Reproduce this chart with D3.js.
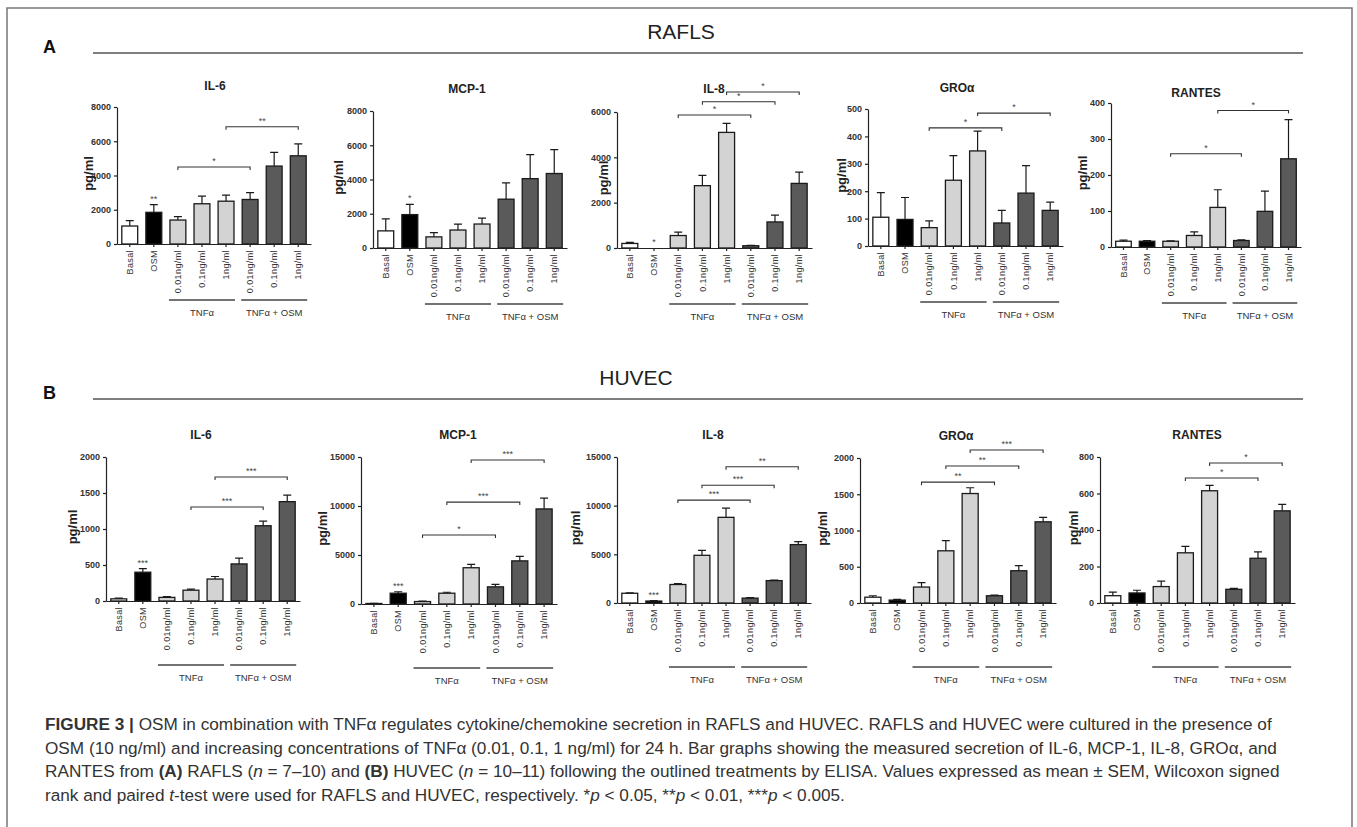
<!DOCTYPE html>
<html>
<head>
<meta charset="utf-8">
<script src="https://cdn.jsdelivr.net/npm/d3@7/dist/d3.min.js"></script>
<style>
    body { margin: 0; background: #fff; }
    svg { display: block; font-family: "Liberation Sans", Arial, sans-serif; }
    .axis path, .axis line { stroke: #222; stroke-width: 1.2px; }
    .axis text { fill: #333; font-size: 9px; font-weight: bold; }
</style>
</head>
<body>
<div id="chart"></div>
<script>

// x axis categories, same in every panel
const treatments = ["Basal", "OSM", "0.01ng/ml", "0.1ng/ml", "1ng/ml", "0.01ng/ml", "0.1ng/ml", "1ng/ml"];
const treatmentGroup = ["basal", "osm", "tnf", "tnf", "tnf", "combo", "combo", "combo"];
const groupLabels = ["TNFα", "TNFα + OSM"];
const cytokines = ["IL-6", "MCP-1", "IL-8", "GROα", "RANTES"];

// (A) RAFLS, mean pg/ml
const raflsIL6 = [1050, 1850, 1400, 2350, 2500, 2600, 4550, 5150];
const raflsMCP1 = [1000, 1950, 650, 1050, 1400, 2850, 4050, 4350];
const raflsIL8 = [200, 0, 550, 2750, 5100, 100, 1150, 2850];
const raflsGRO = [105, 97, 67, 240, 347, 84, 193, 130];
const raflsRANTES = [16, 16, 16, 32, 110, 18, 99, 245];
// (A) RAFLS, SEM
const raflsIL6Sem = [320, 450, 200, 450, 350, 400, 800, 700];
const raflsMCP1Sem = [700, 600, 250, 350, 350, 950, 1400, 1400];
const raflsIL8Sem = [50, 0, 150, 450, 400, 20, 300, 500];
const raflsGROSem = [90, 80, 25, 90, 72, 46, 100, 30];
const raflsRANTESSem = [3, 2, 1, 10, 49, 2, 56, 109];

// (B) HUVEC, mean pg/ml
const huvecIL6 = [30, 400, 50, 150, 305, 515, 1045, 1380];
const huvecMCP1 = [50, 1100, 250, 1100, 3700, 1750, 4400, 9700];
const huvecIL8 = [1000, 200, 1900, 4900, 8800, 500, 2300, 6000];
const huvecGRO = [80, 40, 220, 720, 1510, 100, 445, 1120];
const huvecRANTES = [40, 55, 90, 275, 615, 75, 245, 505];
// (B) HUVEC, SEM
const huvecIL6Sem = [10, 50, 10, 15, 35, 80, 65, 90];
const huvecMCP1Sem = [20, 150, 50, 100, 350, 250, 450, 1100];
const huvecIL8Sem = [50, 50, 100, 500, 950, 50, 50, 300];
const huvecGROSem = [20, 10, 60, 140, 80, 10, 70, 60];
const huvecRANTESSem = [20, 15, 30, 35, 30, 5, 35, 35];

// significance vs basal, drawn over single bars
const raflsStars = [["", "**"], ["", "*"], ["", "*"], [], []];
const huvecStars = [["", "***"], ["", "***"], ["", "***"], [], []];

// comparison brackets: [from bar, to bar, height in pg/ml, label]
const raflsBrackets = [
    [[2, 5, 4500, "*"], [4, 7, 6850, "**"]],
    [],
    [[2, 5, 5870, "*"], [3, 6, 6450, "*"], [4, 7, 6880, "*"]],
    [[2, 5, 431, "*"], [4, 7, 485, "*"]],
    [[2, 5, 259, "*"], [4, 7, 379, "*"]]
];
const huvecBrackets = [
    [[3, 6, 1305, "***"], [4, 7, 1722, "***"]],
    [[2, 5, 7040, "*"], [3, 6, 10400, "***"], [4, 7, 14700, "***"]],
    [[2, 5, 10570, "***"], [3, 6, 12100, "***"], [4, 7, 14000, "**"]],
    [[2, 5, 1667, "**"], [3, 6, 1889, "**"], [4, 7, 2111, "***"]],
    [[3, 6, 685, "*"], [4, 7, 767, "*"]]
];

// y axis maxima and tick steps
const raflsMax = [8000, 8000, 6000, 500, 400];
const raflsStep = [2000, 2000, 2000, 100, 100];
const huvecMax = [2000, 15000, 15000, 2000, 800];
const huvecStep = [500, 5000, 5000, 500, 200];

const captionLines = [
    [["b", "FIGURE 3 | "], ["", "OSM in combination with TNFα regulates cytokine/chemokine secretion in RAFLS and HUVEC. RAFLS and HUVEC were cultured in the presence of"]],
    [["", "OSM (10 ng/ml) and increasing concentrations of TNFα (0.01, 0.1, 1 ng/ml) for 24 h. Bar graphs showing the measured secretion of IL-6, MCP-1, IL-8, GROα, and"]],
    [["", "RANTES from "], ["b", "(A)"], ["", " RAFLS ("], ["i", "n"], ["", " = 7–10) and "], ["b", "(B)"], ["", " HUVEC ("], ["i", "n"], ["", " = 10–11) following the outlined treatments by ELISA. Values expressed as mean ± SEM, Wilcoxon signed"]],
    [["", "rank and paired "], ["i", "t"], ["", "-test were used for RAFLS and HUVEC, respectively. *"], ["i", "p"], ["", " < 0.05, **"], ["i", "p"], ["", " < 0.01, ***"], ["i", "p"], ["", " < 0.005."]]
];

// panel placement (pixels)
const layoutA = [
    {x0: 117, w: 194, yTop: 107, y0: 244, tx: 215, ty: 90, lx: 88},
    {x0: 373, w: 194, yTop: 111, y0: 248, tx: 467, ty: 93, lx: 338},
    {x0: 617, w: 195, yTop: 112, y0: 248, tx: 714, ty: 93, lx: 603},
    {x0: 868, w: 195, yTop: 109, y0: 246, tx: 957, ty: 92, lx: 841},
    {x0: 1111, w: 190, yTop: 103, y0: 247, tx: 1196, ty: 97, lx: 1082}
];
const layoutB = [
    {x0: 106, w: 194, yTop: 457, y0: 601, tx: 201, ty: 439, lx: 72},
    {x0: 361, w: 196, yTop: 457, y0: 604, tx: 458, ty: 439, lx: 322},
    {x0: 617, w: 194, yTop: 457, y0: 603, tx: 713, ty: 439, lx: 575},
    {x0: 860, w: 196, yTop: 458, y0: 603, tx: 956, ty: 440, lx: 822},
    {x0: 1100, w: 195, yTop: 457, y0: 603, tx: 1197, ty: 439, lx: 1073}
];

const barFill = {basal: "#ffffff", osm: "#000000", tnf: "#d3d3d3", combo: "#5a5a5a"};

const width = 1357, height = 827;

const svg = d3.select("#chart").append("svg")
    .attr("width", width)
    .attr("height", height);

// frame
svg.append("path")
    .attr("d", "M7,827 V8 H1352 V827")
    .attr("fill", "none")
    .attr("stroke", "#777")
    .attr("stroke-width", 1.5);

// section headers
function sectionHeader(letter, name, yLine, nameX) {
    svg.append("text")
        .attr("x", 43).attr("y", yLine)
        .attr("font-size", 18).attr("font-weight", "bold").attr("fill", "#111")
        .text(letter);
    svg.append("line")
        .attr("x1", 93).attr("x2", 1303)
        .attr("y1", yLine).attr("y2", yLine)
        .attr("stroke", "#555").attr("stroke-width", 1.3);
    svg.append("text")
        .attr("x", nameX).attr("y", yLine - 14)
        .attr("text-anchor", "middle")
        .attr("font-size", 21).attr("fill", "#222")
        .text(name);
}
sectionHeader("A", "RAFLS", 53, 681);
sectionHeader("B", "HUVEC", 399, 636);

function drawPanel(lay, title, mean, sem, max, step, stars, brackets, groupY, groupTextY) {
    let g = svg.append("g");

    let x = d3.scaleBand()
        .domain(d3.range(treatments.length))
        .range([lay.x0, lay.x0 + lay.w])
        .paddingInner(0.34)
        .paddingOuter(0.2);
    let y = d3.scaleLinear()
        .domain([0, max])
        .range([lay.y0, lay.yTop]);
    let bw = x.bandwidth();
    let cx = i => x(i) + bw / 2;

    // bars
    g.selectAll("rect.bar")
        .data(mean)
        .enter().append("rect")
        .attr("class", "bar")
        .attr("x", (d, i) => x(i))
        .attr("y", d => y(d))
        .attr("width", bw)
        .attr("height", d => lay.y0 - y(d))
        .attr("fill", (d, i) => barFill[treatmentGroup[i]])
        .attr("stroke", d => d > 0 ? "#1a1a1a" : "none")
        .attr("stroke-width", 1.3);

    // error bars (upper half only)
    mean.forEach((m, i) => {
        if (sem[i] <= 0) return;
        let yt = y(m + sem[i]);
        g.append("path")
            .attr("d", "M" + cx(i) + "," + y(m) + "V" + yt + "M" + (cx(i) - 4) + "," + yt + "H" + (cx(i) + 4))
            .attr("stroke", "#1a1a1a")
            .attr("stroke-width", 1.2)
            .attr("fill", "none");
    });

    // stars over single bars
    (stars || []).forEach((s, i) => {
        if (!s) return;
        g.append("text")
            .attr("x", cx(i))
            .attr("y", y(mean[i] + sem[i]) - 3)
            .attr("text-anchor", "middle")
            .attr("font-size", 9).attr("fill", "#444")
            .text(s);
    });

    // brackets
    brackets.forEach(b => {
        let x1 = cx(b[0]), x2 = cx(b[1]), yy = y(b[2]);
        g.append("path")
            .attr("d", "M" + x1 + "," + (yy + 3) + "V" + yy + "H" + x2 + "V" + (yy + 3))
            .attr("fill", "none")
            .attr("stroke", "#333")
            .attr("stroke-width", 1.1);
        g.append("text")
            .attr("x", (x1 + x2) / 2)
            .attr("y", yy - 3)
            .attr("text-anchor", "middle")
            .attr("font-size", 9).attr("fill", "#444")
            .text(b[3]);
    });

    // axes
    g.append("g")
        .attr("class", "axis")
        .attr("transform", "translate(" + lay.x0 + ",0)")
        .call(d3.axisLeft(y)
            .tickValues(d3.range(0, max + 1, step))
            .tickSize(3)
            .tickSizeOuter(0)
            .tickFormat(d3.format("d")));

    let xAxis = g.append("g")
        .attr("class", "axis")
        .attr("transform", "translate(0," + lay.y0 + ")")
        .call(d3.axisBottom(x)
            .tickSize(3)
            .tickSizeOuter(0)
            .tickFormat(i => treatments[i]));
    xAxis.selectAll("text")
        .attr("transform", "rotate(-90)")
        .attr("text-anchor", "end")
        .attr("x", -6)
        .attr("y", 0)
        .attr("dy", "0.35em")
        .style("font-weight", "normal")
        .style("font-size", "9px")
        .style("letter-spacing", "0.4px");

    // titles
    g.append("text")
        .attr("x", lay.tx).attr("y", lay.ty)
        .attr("text-anchor", "middle")
        .attr("font-size", 12).attr("font-weight", "bold").attr("fill", "#222")
        .text(title);
    g.append("text")
        .attr("transform", "translate(" + lay.lx + "," + ((lay.y0 + lay.yTop) / 2 - 2) + ") rotate(-90)")
        .attr("text-anchor", "middle")
        .attr("dy", "0.35em")
        .attr("font-size", 13).attr("font-weight", "bold").attr("fill", "#222")
        .text("pg/ml");

    // treatment group lines
    [[2, 4], [5, 7]].forEach((r, k) => {
        let x1 = x(r[0]) - 1, x2 = x(r[1]) + bw + 1;
        g.append("line")
            .attr("x1", x1).attr("x2", x2)
            .attr("y1", lay.y0 + groupY).attr("y2", lay.y0 + groupY)
            .attr("stroke", "#444").attr("stroke-width", 1.3);
        g.append("text")
            .attr("x", (x1 + x2) / 2)
            .attr("y", lay.y0 + groupTextY)
            .attr("text-anchor", "middle")
            .attr("font-size", 9.5).attr("fill", "#333")
            .text(groupLabels[k]);
    });
}

const raflsMeans = [raflsIL6, raflsMCP1, raflsIL8, raflsGRO, raflsRANTES];
const raflsSems = [raflsIL6Sem, raflsMCP1Sem, raflsIL8Sem, raflsGROSem, raflsRANTESSem];
const huvecMeans = [huvecIL6, huvecMCP1, huvecIL8, huvecGRO, huvecRANTES];
const huvecSems = [huvecIL6Sem, huvecMCP1Sem, huvecIL8Sem, huvecGROSem, huvecRANTESSem];

cytokines.forEach((c, i) => {
    drawPanel(layoutA[i], c, raflsMeans[i], raflsSems[i], raflsMax[i], raflsStep[i], raflsStars[i], raflsBrackets[i], 56, 72);
    drawPanel(layoutB[i], c, huvecMeans[i], huvecSems[i], huvecMax[i], huvecStep[i], huvecStars[i], huvecBrackets[i], 64, 80);
});

// caption
let caption = svg.append("text")
    .attr("font-size", 17.2)
    .attr("fill", "#333");
captionLines.forEach((line, li) => {
    let t = caption.append("tspan")
        .attr("x", 45)
        .attr("y", 730 + li * 23.5);
    line.forEach(part => {
        let s = t.append("tspan").text(part[1]);
        if (part[0] === "b") s.attr("font-weight", "bold");
        if (part[0] === "i") s.attr("font-style", "italic");
    });
});

</script>
</body>
</html>
